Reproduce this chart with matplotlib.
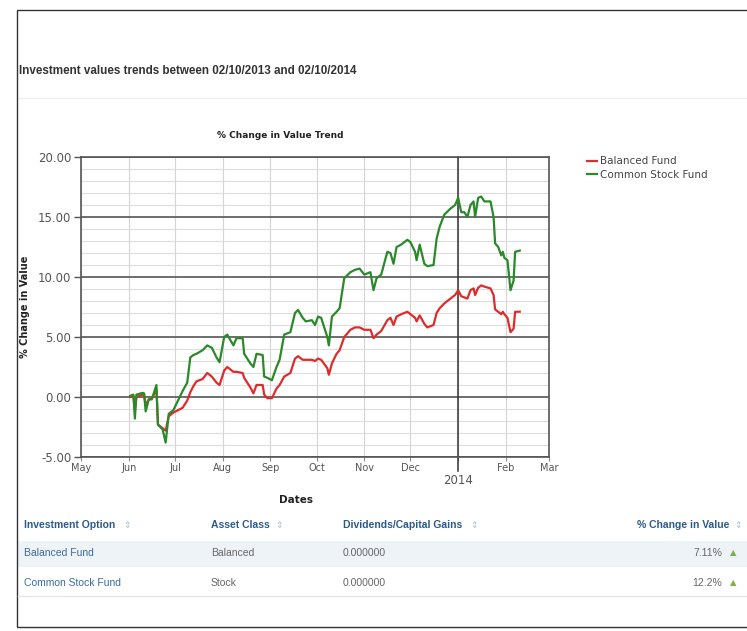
import pandas as pd
import matplotlib
matplotlib.use("Agg")
import matplotlib.pyplot as plt
from matplotlib import font_manager
from matplotlib.patches import Rectangle
from matplotlib.lines import Line2D

# values
dates = [
    "2013-06-02", "2013-06-04", "2013-06-05", "2013-06-06", "2013-06-10", "2013-06-11",
    "2013-06-12", "2013-06-14", "2013-06-16", "2013-06-19", "2013-06-20", "2013-06-23",
    "2013-06-25", "2013-06-27", "2013-06-30", "2013-07-03", "2013-07-06", "2013-07-09",
    "2013-07-11", "2013-07-13", "2013-07-15", "2013-07-19", "2013-07-22", "2013-07-25",
    "2013-07-28", "2013-07-30", "2013-08-02", "2013-08-04", "2013-08-08", "2013-08-10",
    "2013-08-14", "2013-08-15", "2013-08-19", "2013-08-21", "2013-08-23", "2013-08-27",
    "2013-08-28", "2013-08-30", "2013-09-02", "2013-09-05", "2013-09-07", "2013-09-10",
    "2013-09-14", "2013-09-17", "2013-09-19", "2013-09-22", "2013-09-24", "2013-09-28",
    "2013-09-30", "2013-10-02", "2013-10-04", "2013-10-08", "2013-10-09", "2013-10-11",
    "2013-10-14", "2013-10-16", "2013-10-19", "2013-10-23", "2013-10-26", "2013-10-29",
    "2013-11-01", "2013-11-05", "2013-11-07", "2013-11-09", "2013-11-12", "2013-11-16",
    "2013-11-18", "2013-11-20", "2013-11-22", "2013-11-25", "2013-11-29", "2013-12-01",
    "2013-12-04", "2013-12-05", "2013-12-07", "2013-12-10", "2013-12-12", "2013-12-16",
    "2013-12-18", "2013-12-20", "2013-12-23", "2013-12-27", "2013-12-30", "2014-01-01",
    "2014-01-03", "2014-01-05", "2014-01-07", "2014-01-09", "2014-01-11", "2014-01-12",
    "2014-01-14", "2014-01-16", "2014-01-18", "2014-01-22", "2014-01-24", "2014-01-25",
    "2014-01-27", "2014-01-29", "2014-01-30", "2014-01-31", "2014-02-02", "2014-02-04",
    "2014-02-06", "2014-02-07", "2014-02-10",
]
balanced = [
    0.0, 0.1, -1.0, 0.0, 0.2, 0.2,
    -0.7, -0.2, -0.1, 0.6, -2.3, -2.6,
    -2.8, -1.6, -1.3, -1.1, -0.9, -0.3,
    0.4, 0.9, 1.3, 1.5, 2.0, 1.7,
    1.2, 1.0, 2.2, 2.5, 2.1, 2.1,
    2.0, 1.6, 0.8, 0.3, 1.0, 1.0,
    0.2, -0.1, -0.1, 0.7, 1.0, 1.7,
    2.0, 3.2, 3.4, 3.1, 3.1, 3.1,
    3.0, 3.2, 3.1, 2.4, 1.85, 2.8,
    3.6, 3.9, 5.0, 5.6, 5.8, 5.8,
    5.6, 5.6, 4.9, 5.2, 5.5, 6.4,
    6.6, 6.0, 6.7, 6.9, 7.1, 6.9,
    6.6, 6.3, 6.8, 6.1, 5.8, 6.0,
    7.0, 7.4, 7.8, 8.2, 8.5, 8.9,
    8.4, 8.3, 8.2, 8.9, 9.05, 8.5,
    9.1, 9.3, 9.2, 9.05, 8.5, 7.3,
    7.1, 6.9, 7.1, 6.9, 6.6, 5.4,
    5.7, 7.1, 7.11,
]
common_stock = [
    0.1, 0.2, -1.8, 0.2, 0.35, 0.3,
    -1.2, -0.2, -0.2, 1.0, -2.3, -2.7,
    -3.8, -1.4, -1.1, -0.3, 0.5, 1.2,
    3.3, 3.5, 3.6, 3.9, 4.3, 4.1,
    3.3, 2.9, 5.0, 5.2, 4.3, 4.9,
    4.9, 3.6, 2.8, 2.5, 3.6, 3.5,
    1.7, 1.6, 1.4, 2.5, 3.1, 5.2,
    5.4, 7.0, 7.25, 6.6, 6.3, 6.4,
    6.0, 6.7, 6.6, 5.0, 4.3, 6.7,
    7.1, 7.4, 9.9, 10.4, 10.6, 10.7,
    10.2, 10.4, 8.9, 9.9, 10.2, 12.1,
    12.0, 11.1, 12.5, 12.7, 13.1, 12.9,
    12.1, 11.4, 12.7, 11.1, 10.9, 11.0,
    13.2, 14.2, 15.2, 15.7, 16.0, 16.6,
    15.4, 15.4, 15.0, 16.0, 16.3, 15.0,
    16.6, 16.7, 16.3, 16.3, 15.0, 12.8,
    12.5, 11.8, 12.1, 11.6, 11.4, 8.9,
    9.7, 12.1, 12.2,
]

funds = ["Balanced Fund", "Common Stock Fund"]
asset_classes = ["Balanced", "Stock"]
dividends = ["0.000000", "0.000000"]
pct_change = ["7.11%", "12.2%"]
table_headers = ["Investment Option", "Asset Class", "Dividends/Capital Gains", "% Change in Value"]

df = pd.DataFrame({"date": pd.to_datetime(dates), "Balanced Fund": balanced,
                   "Common Stock Fund": common_stock})

installed = {f.name for f in font_manager.fontManager.ttflist}
arial = "Liberation Sans" if "Liberation Sans" in installed else "DejaVu Sans"

W, H = 747, 631
fig = plt.figure(figsize=(W / 100, H / 100), dpi=100)


def fx(px):
    return px / W


def fy(py):
    return 1 - py / H


# page frame and header
fig.patches.append(Rectangle((fx(17), fy(627)), 1.2, fy(10) - fy(627), transform=fig.transFigure,
                             fill=False, edgecolor="#333333", lw=1.0))
header = fig.text(fx(19), fy(71), "Investment values trends between 02/10/2013 and 02/10/2014",
                  fontsize=9, fontweight="bold", family=arial, color="#333333", va="center")
# shrink the header until it spans the same width as in the reference
renderer = fig.canvas.get_renderer()
w = header.get_window_extent(renderer).width
header.set_fontsize(9 * 335 / w)
fig.lines.append(Line2D([fx(19), 1], [fy(98), fy(98)], transform=fig.transFigure,
                        color="#eeeeee", lw=1))

ax = fig.add_axes([fx(81), fy(457), fx(549) - fx(81), fy(157) - fy(457)])
red = "#e02b2b"
green = "#2a8a2a"
ax.plot(df["date"], df["Balanced Fund"], color=red, lw=1.6, label="Balanced Fund", zorder=3)
ax.plot(df["date"], df["Common Stock Fund"], color=green, lw=1.6, label="Common Stock Fund", zorder=4)

ax.set_xlim(pd.Timestamp("2013-05-01"), pd.Timestamp("2014-03-01"))
ax.set_ylim(-5, 20)
ax.set_yticks(range(-5, 21, 5))
ax.set_yticks(range(-5, 21), minor=True)
ax.set_yticklabels(["%.2f" % v for v in range(-5, 21, 5)])
months = pd.date_range("2013-05-01", "2014-03-01", freq="MS")
ax.set_xticks(months)
ax.set_xticklabels(["" if m.month == 1 else m.strftime("%b") for m in months])
ax.grid(axis="y", which="major", color="#555555", lw=1.2, zorder=1)
ax.grid(axis="y", which="minor", color="#dddddd", lw=0.8, zorder=0)
ax.grid(axis="x", which="major", color="#d4d4d4", lw=0.8, zorder=0)
ax.axvline(pd.Timestamp("2014-01-01"), ymin=-0.045, ymax=1, color="#333333", lw=1.1,
           clip_on=False, zorder=2)
ax.tick_params(axis="y", which="major", length=5, width=1, color="#555555",
               labelsize=8.5, labelcolor="#555555", pad=2)
ax.tick_params(axis="y", which="minor", length=0)
ax.tick_params(axis="x", length=3, color="#888888", labelsize=7, labelcolor="#555555", pad=1)
for s in ax.spines.values():
    s.set_color("#555555")
    s.set_linewidth(1.2)
ax.text(pd.Timestamp("2014-01-01"), -7.0, "2014", ha="center", va="center",
        fontsize=8.5, color="#555555")

fig.text(fx(280), fy(135), "% Change in Value Trend", fontsize=6.5, fontweight="bold",
         color="#222222", ha="center", va="center")
fig.text(fx(296), fy(500), "Dates", fontsize=7.5, fontweight="bold", color="#222222",
         ha="center", va="center")
fig.text(fx(25), fy(307), "% Change in Value", fontsize=7, fontweight="bold", color="#222222",
         ha="center", va="center", rotation=90)

fig.legend(loc="upper left", bbox_to_anchor=(fx(578), fy(147)), frameon=False,
           fontsize=7.5, handlelength=0.9, handletextpad=0.3, labelspacing=0.35,
           labelcolor="#444444")

# table below the chart
blue = "#2b5b8c"
head_y = 525
col_x = [24, 211, 343]
for x, h in zip(col_x, table_headers[:3]):
    fig.text(fx(x), fy(head_y), h, fontsize=7.5, fontweight="bold", family=arial,
             color=blue, va="center")
fig.text(fx(729), fy(head_y), table_headers[3], fontsize=7.5, fontweight="bold", family=arial,
         color=blue, va="center", ha="right")
for x in [127, 279, 474, 738]:
    fig.text(fx(x), fy(head_y + 1), "\u21d5", fontsize=6.5, color="#a8c0d8", va="center",
             ha="center")

fig.patches.append(Rectangle((fx(18), fy(567)), 1, fy(541) - fy(567), transform=fig.transFigure,
                             facecolor="#eef3f8", edgecolor="none", zorder=-1))
fig.lines.append(Line2D([fx(18), 1], [fy(596), fy(596)], transform=fig.transFigure,
                        color="#e6e6e6", lw=1))
row_y = [553, 583]
for i, ry in enumerate(row_y):
    fig.text(fx(24), fy(ry), funds[i], fontsize=7.5, family=arial, color="#3a6a9a", va="center")
    fig.text(fx(211), fy(ry), asset_classes[i], fontsize=7.5, family=arial, color="#666666",
             va="center")
    fig.text(fx(343), fy(ry), dividends[i], fontsize=7.5, family=arial, color="#666666",
             va="center")
    fig.text(fx(722), fy(ry), pct_change[i], fontsize=7.5, family=arial, color="#666666",
             va="center", ha="right")
    fig.text(fx(733), fy(ry), "\u25b2", fontsize=6, color="#7cb342", va="center", ha="center")

fig.savefig("out.png", dpi=100)
